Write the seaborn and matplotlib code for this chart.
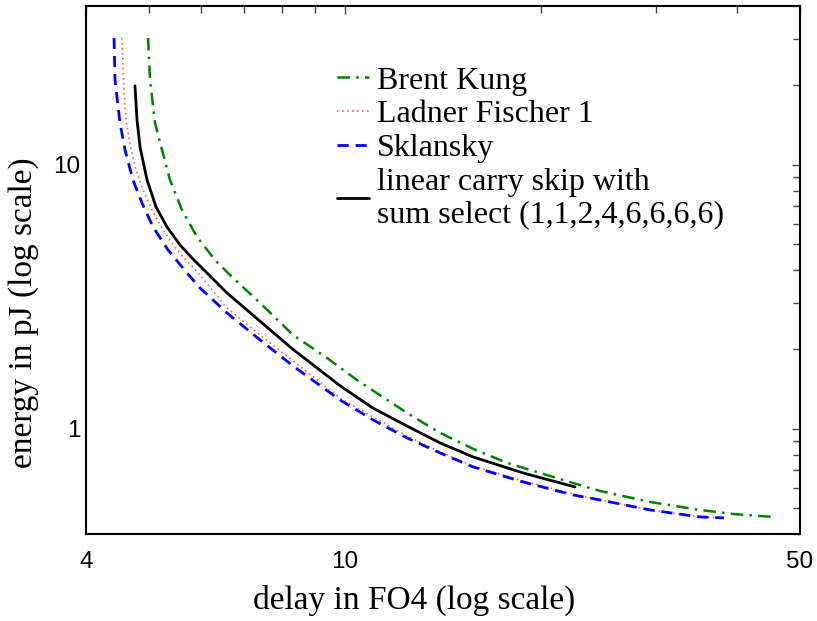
import matplotlib
matplotlib.use("Agg")
import matplotlib.pyplot as plt
import matplotlib.ticker as mticker
import seaborn as sns
import pandas as pd

# ---- data ----
bk_delay = [4.982, 5.017, 5.106, 5.234, 5.384, 5.617, 5.923, 6.312, 6.704, 7.404, 8.319,
            9.383, 10.43, 11.04, 12.45, 14.00, 15.73, 17.74, 19.93, 22.40, 24.65, 29.41,
            35.10, 39.45, 45.45]
bk_energy = [30.27, 20.99, 14.43, 11.40, 8.775, 6.752, 5.338, 4.367, 3.765, 3.001, 2.270,
             1.857, 1.533, 1.397, 1.150, 0.9656, 0.8410, 0.7434, 0.6813, 0.6244, 0.5822,
             0.5290, 0.4933, 0.4764, 0.4642]

lf_delay = [4.543, 4.575, 4.608, 4.674, 4.774, 4.893, 5.053, 5.253, 5.518, 5.986, 6.586,
            7.404, 8.319, 9.824, 11.04, 12.45, 14.00, 15.73, 18.77, 22.40, 24.65, 29.41,
            35.10, 38.21]
lf_energy = [30.27, 19.24, 14.81, 11.90, 9.574, 8.041, 6.752, 5.674, 4.764, 3.831, 2.873,
             2.270, 1.810, 1.310, 1.110, 0.9408, 0.8183, 0.7241, 0.6353, 0.5672, 0.5383,
             0.4933, 0.4642, 0.4602]

sk_delay = [4.417, 4.432, 4.511, 4.592, 4.723, 4.876, 5.070, 5.346, 5.717, 5.986, 6.586,
            7.404, 8.319, 9.824, 11.04, 12.45, 14.00, 15.73, 18.77, 22.40, 24.65, 29.41,
            35.10, 38.21]
sk_energy = [30.27, 20.99, 14.43, 11.40, 8.775, 7.178, 5.824, 4.764, 3.899, 3.421, 2.751,
             2.174, 1.732, 1.288, 1.082, 0.9245, 0.8111, 0.7180, 0.6298, 0.5623, 0.5383,
             0.4933, 0.4642, 0.4602]

cs_delay = [4.757, 4.791, 4.842, 4.964, 5.124, 5.327, 5.578, 5.840, 6.158, 6.586, 7.404,
            8.319, 9.824, 11.04, 12.45, 14.00, 15.73, 18.77, 22.56]
cs_energy = [19.92, 14.81, 11.70, 8.775, 6.933, 5.824, 4.978, 4.403, 3.866, 3.275, 2.558,
             2.002, 1.458, 1.199, 1.026, 0.8850, 0.7834, 0.6813, 0.6030]

labels = ["Brent Kung", "Ladner Fischer 1", "Sklansky",
          "linear carry skip with\nsum select (1,1,2,4,6,6,6,6)"]
x_ticks = [4, 10, 50]
x_ticklabels = ["4", "10", "50"]
y_ticks = [1, 10]
y_ticklabels = ["1", "10"]

sns.set_theme(style="white")
plt.rcParams["font.family"] = ["Liberation Serif", "DejaVu Serif"]
plt.rcParams["text.color"] = "black"
plt.rcParams["axes.labelcolor"] = "black"
plt.rcParams["xtick.labelcolor"] = "black"
plt.rcParams["ytick.labelcolor"] = "black"

fig = plt.figure(figsize=(8.17, 6.21), dpi=100)
ax = fig.add_axes([86 / 817, 87 / 621, 714 / 817, 528 / 621])

series = [
    (bk_delay, bk_energy, labels[0], "#008000", 1.8, (0, (5, 2.5, 1, 2.5))),
    (lf_delay, lf_energy, labels[1], "#ff5a5a", 1.2, (0, (1, 2))),
    (sk_delay, sk_energy, labels[2], "#0000ff", 2.0, (0, (4, 2.5))),
    (cs_delay, cs_energy, labels[3], "#000000", 2.0, "-"),
]
for xs, ys, lab, col, lw, ls in series:
    df = pd.DataFrame({"delay": xs, "energy": ys})
    sns.lineplot(data=df, x="delay", y="energy", ax=ax, color=col, lw=lw,
                 linestyle=ls, label=lab, sort=False, estimator=None)

ax.set_xscale("log")
ax.set_yscale("log")
ax.set_xlim(4, 50)
ax.set_ylim(0.4, 40)

ax.xaxis.set_major_locator(mticker.FixedLocator(x_ticks))
ax.xaxis.set_major_formatter(mticker.FixedFormatter(x_ticklabels))
ax.xaxis.set_minor_locator(mticker.LogLocator(base=10, subs=range(1, 10), numticks=20))
ax.xaxis.set_minor_formatter(mticker.NullFormatter())
ax.yaxis.set_major_locator(mticker.FixedLocator(y_ticks))
ax.yaxis.set_major_formatter(mticker.FixedFormatter(y_ticklabels))
ax.yaxis.set_minor_locator(mticker.LogLocator(base=10, subs=range(1, 10), numticks=20))
ax.yaxis.set_minor_formatter(mticker.NullFormatter())

ax.tick_params(which="both", direction="in", top=True, right=True,
               color="#444444", width=1.0, labelcolor="black")
ax.tick_params(which="major", length=6, labelsize=17.5)
ax.tick_params(which="minor", length=5)
ax.tick_params(axis="x", which="major", pad=12)
ax.tick_params(axis="y", which="major", pad=4)
for lbl in ax.get_xticklabels() + ax.get_yticklabels():
    lbl.set_family(["Liberation Sans", "DejaVu Sans"])

for sp in ax.spines.values():
    sp.set_color("black")
    sp.set_linewidth(1.5)

ax.set_xlabel("delay in FO4 (log scale)", fontsize=24, color="black")
ax.set_ylabel("energy in pJ (log scale)", fontsize=24, color="black")
ax.xaxis.label.set_va("center")
ax.yaxis.label.set_va("center")
ax.xaxis.set_label_coords(0.459, -0.125)
ax.yaxis.set_label_coords(-0.088, 0.42)

leg = ax.legend(loc="upper left", bbox_to_anchor=(0.3515, 0.886), frameon=False,
                fontsize=23, handlelength=1.0, handletextpad=0.25,
                labelspacing=0.14, borderpad=0, borderaxespad=0)
for t in leg.get_texts():
    t.set_linespacing(1.15)
    t.set_color("black")

fig.savefig("out.png", dpi=100)
